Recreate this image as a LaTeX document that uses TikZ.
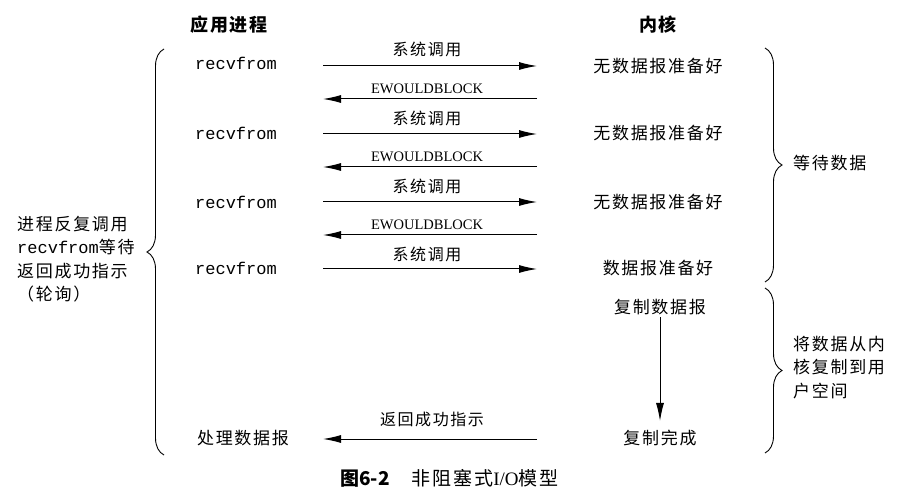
\documentclass[tikz,border=0pt]{standalone}
\usepackage{fontspec}
\setmainfont{Noto Sans CJK SC}
\newfontfamily\cjk[LetterSpace=10]{Noto Sans CJK SC}
\newfontfamily\mono{Liberation Mono}
\newfontfamily\tms{Liberation Serif}
\usetikzlibrary{arrows.meta,decorations.pathreplacing}
\tikzset{
  txt/.style={inner sep=0pt, font=\fontsize{17}{20}\selectfont\cjk},
  hdr/.style={inner sep=0pt, font=\fontsize{18}{20}\selectfont\cjk\bfseries},
  code/.style={inner sep=0pt, font=\fontsize{17}{20}\selectfont\mono},
  ew/.style={inner sep=0pt, font=\fontsize{14.5}{16}\selectfont\tms},
  lbl/.style={inner sep=0pt, font=\fontsize{16}{20}\selectfont\cjk},
  arr/.style={line width=1pt, -{Latex[length=18pt,width=8pt]}},
  brc/.style={line width=0.9pt, decorate, decoration={brace, amplitude=17pt}},
}
\begin{document}
\begin{tikzpicture}[x=1pt,y=-1pt]
\useasboundingbox (0,0) rectangle (921,502);
% headers
\node[hdr] (app) at (229,25) {应用进程};
\node[hdr] (ker) at (658,25) {内核};
% left column
\node[code] (r1) at (236,63) {recvfrom};
\node[code] (r2) at (236,133) {recvfrom};
\node[code] (r3) at (236,202) {recvfrom};
\node[code] (r4) at (236,268) {recvfrom};
\node[txt] (proc) at (243,438) {处理数据报};
% kernel column
\node[txt] (k1) at (658,66) {无数据报准备好};
\node[txt] (k2) at (658,133) {无数据报准备好};
\node[txt] (k3) at (658,202) {无数据报准备好};
\node[txt] (k4) at (658,268) {数据报准备好};
\node[txt] (k5) at (660,307) {复制数据报};
\node[txt] (k6) at (660,438) {复制完成};
% arrow end coordinates
\coordinate (a1l) at (323,66);  \coordinate (a1r) at (537,66);
\coordinate (b1l) at (323,99);  \coordinate (b1r) at (537,99);
\coordinate (a2l) at (323,134); \coordinate (a2r) at (537,134);
\coordinate (b2l) at (323,167); \coordinate (b2r) at (537,167);
\coordinate (a3l) at (323,202); \coordinate (a3r) at (537,202);
\coordinate (b3l) at (323,235); \coordinate (b3r) at (537,235);
\coordinate (a4l) at (323,269); \coordinate (a4r) at (537,269);
\coordinate (b4l) at (323,439); \coordinate (b4r) at (537,439);
\draw[arr] (a1l) -- (a1r);
\draw[arr] (b1r) -- (b1l);
\draw[arr] (a2l) -- (a2r);
\draw[arr] (b2r) -- (b2l);
\draw[arr] (a3l) -- (a3r);
\draw[arr] (b3r) -- (b3l);
\draw[arr] (a4l) -- (a4r);
\draw[arr] (b4r) -- (b4l);
\draw[arr] (k5.south) ++(0,2) coordinate (vtop) (vtop) -- (k6.north |- 0,421);
% arrow labels
\node[lbl] (s1) at (427,49) {系统调用};
\node[ew]  (e1) at (427,89) {EWOULDBLOCK};
\node[lbl] (s2) at (427,118) {系统调用};
\node[ew]  (e2) at (427,157) {EWOULDBLOCK};
\node[lbl] (s3) at (427,186) {系统调用};
\node[ew]  (e3) at (427,225) {EWOULDBLOCK};
\node[lbl] (s4) at (427,254) {系统调用};
\node[lbl] (ret) at (432,419) {返回成功指示};
% braces
\draw[brc] (164,455) -- (164,49);
\draw[brc] (765,48) -- (765,282);
\draw[brc] (765,288) -- (765,453);
% brace texts
\node[txt, anchor=north west, align=left, font=\fontsize{17}{23.5}\selectfont\cjk] (left) at (17,216)
  {进程反复调用\\{\mono recvfrom}等待\\返回成功指示\\（轮询）};
\node[txt, anchor=west] (wait) at (793,163) {等待数据};
\node[txt, anchor=north west, align=left, font=\fontsize{17}{23.5}\selectfont\cjk] (copy) at (793,336)
  {将数据从内\\核复制到用\\户空间};
% caption
\node[inner sep=0pt, anchor=west] (cap) at (340,478)
  {{\fontsize{19}{22}\selectfont\bfseries 图6-2}\hspace{22pt}{\fontsize{19}{22}\selectfont\cjk 非阻塞式{\tms I/O}模型}};
\end{tikzpicture}
\end{document}
